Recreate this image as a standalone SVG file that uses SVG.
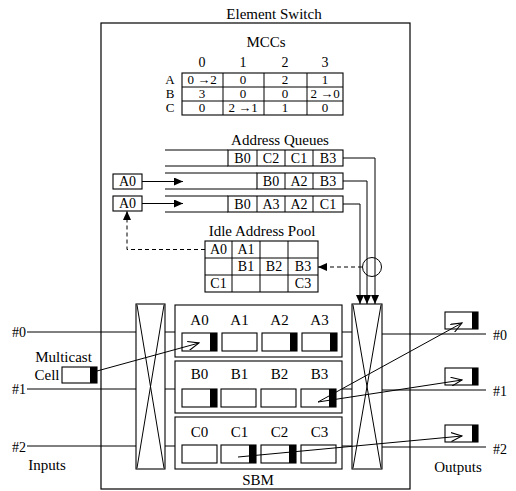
<svg xmlns="http://www.w3.org/2000/svg" width="516" height="491" viewBox="0 0 516 491">
<defs>
<style>
text{font-family:"Liberation Serif","Times New Roman",serif;font-size:15px;fill:#000;text-anchor:middle}
.s{font-size:14px}
.t{font-size:13px}
.ln{stroke:#000;stroke-width:1;fill:none}
.bx{stroke:#000;stroke-width:1.1;fill:#fff}
.ds{stroke:#000;stroke-width:1;fill:none;stroke-dasharray:4,3}
.blk{fill:#000}
</style>
<marker id="fa" markerUnits="userSpaceOnUse" markerWidth="9" markerHeight="8" refX="9" refY="4" orient="auto"><path d="M0,0 L9,4 L0,8 z" fill="#000"/></marker>
<marker id="oa" markerUnits="userSpaceOnUse" markerWidth="12" markerHeight="10" refX="11" refY="5" orient="auto"><path d="M0,0.5 L11,5 L0,9.5" fill="none" stroke="#000" stroke-width="1.1"/></marker>
</defs>
<rect width="516" height="491" fill="#fff"/>

<g id="element-switch">
<rect x="101" y="23" width="309" height="466" fill="none" stroke="#000" stroke-width="1.2"/>
<text x="274" y="19">Element Switch</text>
</g>

<g id="mccs">
<text x="266" y="47">MCCs</text>
<text class="s" x="202" y="67">0</text><text class="s" x="243" y="67">1</text><text class="s" x="285" y="67">2</text><text class="s" x="325" y="67">3</text>
<text class="t" x="170" y="84">A</text><text class="t" x="170" y="98">B</text><text class="t" x="170" y="112">C</text>
<rect class="bx" x="182" y="73" width="161" height="42"/>
<path class="ln" d="M182,87H343M182,101H343M223,73V115M264,73V115M307,73V115"/>
<text class="t" x="202" y="84">0 →2</text><text class="t" x="243" y="84">0</text><text class="t" x="285" y="84">2</text><text class="t" x="325" y="84">1</text>
<text class="t" x="202" y="98">3</text><text class="t" x="243" y="98">0</text><text class="t" x="285" y="98">0</text><text class="t" x="325" y="98">2 →0</text>
<text class="t" x="202" y="112">0</text><text class="t" x="243" y="112">2 →1</text><text class="t" x="285" y="112">1</text><text class="t" x="325" y="112">0</text>
</g>

<g id="address-queues">
<text x="280" y="145">Address Queues</text>
<g id="queue-1">
<path class="ln" d="M165,150H228M165,166H228"/>
<rect class="bx" x="228" y="150" width="115" height="16"/>
<path class="ln" d="M257,150V166M285,150V166M313,150V166"/>
<text class="s" x="242.5" y="163">B0</text><text class="s" x="271" y="163">C2</text><text class="s" x="299" y="163">C1</text><text class="s" x="328" y="163">B3</text>
</g>
<g id="queue-2">
<path class="ln" d="M165,173H257M165,189H257"/>
<rect class="bx" x="257" y="173" width="86" height="16"/>
<path class="ln" d="M285,173V189M313,173V189"/>
<text class="s" x="271" y="186">B0</text><text class="s" x="299" y="186">A2</text><text class="s" x="328" y="186">B3</text>
</g>
<g id="queue-3">
<path class="ln" d="M165,196H228M165,212H228"/>
<rect class="bx" x="228" y="196" width="115" height="16"/>
<path class="ln" d="M257,196V212M285,196V212M313,196V212"/>
<text class="s" x="242.5" y="209">B0</text><text class="s" x="271" y="209">A3</text><text class="s" x="299" y="209">A2</text><text class="s" x="328" y="209">C1</text>
</g>
</g>

<g id="a0-box-1"><rect class="bx" x="113" y="174" width="29" height="15"/><text class="s" x="127.5" y="186">A0</text></g>
<g id="a0-box-2"><rect class="bx" x="113" y="196" width="29" height="15"/><text class="s" x="127.5" y="208">A0</text></g>

<g id="idle-address-pool">
<text x="262" y="236">Idle Address Pool</text>
<rect class="bx" x="205" y="241" width="113" height="51"/>
<path class="ln" d="M205,258H318M205,275H318M232,241V292M260,241V292M288,241V292"/>
<text class="s" x="218.5" y="254">A0</text><text class="s" x="246" y="254">A1</text>
<text class="s" x="246" y="271">B1</text><text class="s" x="274" y="271">B2</text><text class="s" x="303" y="271">B3</text>
<text class="s" x="218.5" y="288">C1</text><text class="s" x="303" y="288">C3</text>
</g>

<g id="circle"><circle cx="372" cy="267" r="9.5" class="ln"/></g>

<g id="input-crossbar">
<rect class="bx" x="136" y="304" width="29" height="165"/>
<path class="ln" d="M137,305L164,468M164,305L137,468"/>
</g>
<g id="output-crossbar">
<rect class="bx" x="352" y="304" width="30" height="165"/>
<path class="ln" d="M353,305L381,468M381,305L353,468"/>
</g>

<g id="sbm-a">
<rect class="bx" x="175" y="305" width="167" height="52"/>
<text x="199.5" y="325">A0</text><text x="239.5" y="325">A1</text><text x="279.5" y="325">A2</text><text x="319.5" y="325">A3</text>
<rect class="bx" x="182" y="333" width="35" height="18"/><rect class="blk" x="210" y="333" width="7" height="18"/>
<rect class="bx" x="222" y="333" width="35" height="18"/>
<rect class="bx" x="262" y="333" width="35" height="18"/><rect class="blk" x="290" y="333" width="7" height="18"/>
<rect class="bx" x="302" y="333" width="35" height="18"/><rect class="blk" x="330" y="333" width="7" height="18"/>
</g>
<g id="sbm-b">
<rect class="bx" x="175" y="361" width="167" height="52"/>
<text x="199.5" y="379">B0</text><text x="239.5" y="379">B1</text><text x="279.5" y="379">B2</text><text x="319.5" y="379">B3</text>
<rect class="bx" x="182" y="389" width="35" height="18"/><rect class="blk" x="210" y="389" width="7" height="18"/>
<rect class="bx" x="221" y="389" width="35" height="18"/>
<rect class="bx" x="261" y="389" width="35" height="18"/>
<rect class="bx" x="301" y="389" width="35" height="18"/><rect class="blk" x="329" y="389" width="7" height="18"/>
</g>
<g id="sbm-c">
<rect class="bx" x="175" y="417" width="167" height="52"/>
<text x="199.5" y="437">C0</text><text x="239.5" y="437">C1</text><text x="279.5" y="437">C2</text><text x="319.5" y="437">C3</text>
<rect class="bx" x="182" y="445" width="35" height="18"/>
<rect class="bx" x="221" y="445" width="35" height="18"/><rect class="blk" x="249" y="445" width="7" height="18"/>
<rect class="bx" x="261" y="445" width="35" height="18"/><rect class="blk" x="289" y="445" width="7" height="18"/>
<rect class="bx" x="301" y="445" width="35" height="18"/>
</g>
<text x="258" y="485">SBM</text>

<g id="multicast-cell">
<text x="63.5" y="362">Multicast</text>
<text x="47" y="380">Cell</text>
<rect class="bx" x="62" y="367" width="35" height="16"/><rect class="blk" x="90" y="367" width="7" height="16"/>
</g>

<g id="output-cells">
<rect class="bx" x="445" y="312" width="33" height="17"/><rect class="blk" x="472" y="312" width="6" height="17"/>
<rect class="bx" x="445" y="368" width="33" height="17"/><rect class="blk" x="472" y="368" width="6" height="17"/>
<rect class="bx" x="445" y="425" width="33" height="17"/><rect class="blk" x="472" y="425" width="6" height="17"/>
</g>

<g id="port-labels">
<text class="s" x="19" y="337">#0</text>
<text class="s" x="19" y="394">#1</text>
<text class="s" x="19" y="452">#2</text>
<text x="47" y="470">Inputs</text>
<text class="s" x="500" y="340">#0</text>
<text class="s" x="500" y="396">#1</text>
<text class="s" x="500" y="454">#2</text>
<text x="458" y="472">Outputs</text>
</g>

<g id="connectors">
<polyline class="ln" points="343,158 375,158 375,304" marker-end="url(#fa)"/>
<polyline class="ln" points="343,181 367,181 367,304" marker-end="url(#fa)"/>
<polyline class="ln" points="343,204 360,204 360,304" marker-end="url(#fa)"/>
<line class="ln" x1="142" y1="181.5" x2="183" y2="181.5" marker-end="url(#fa)"/>
<line class="ln" x1="142" y1="203.5" x2="183" y2="203.5" marker-end="url(#fa)"/>
<polyline class="ds" points="205,249.5 127,249.5 127,211" marker-end="url(#fa)"/>
<line class="ds" x1="362" y1="267" x2="318" y2="267" marker-end="url(#fa)"/>
<path class="ln" d="M27,332H136M165,332H175M27,389H136M165,389H175M27,446H136M165,446H175"/>
<path class="ln" d="M342,332H352M382,334H486M342,389H352M382,390H486M342,446H352M382,447H486"/>
<line class="ln" x1="97" y1="371" x2="199" y2="343" marker-end="url(#oa)"/>
<line class="ln" x1="318" y1="402" x2="462" y2="323" marker-end="url(#oa)"/>
<line class="ln" x1="318" y1="402" x2="462" y2="380" marker-end="url(#oa)"/>
<line class="ln" x1="238" y1="457" x2="462" y2="436" marker-end="url(#oa)"/>
</g>
</svg>
